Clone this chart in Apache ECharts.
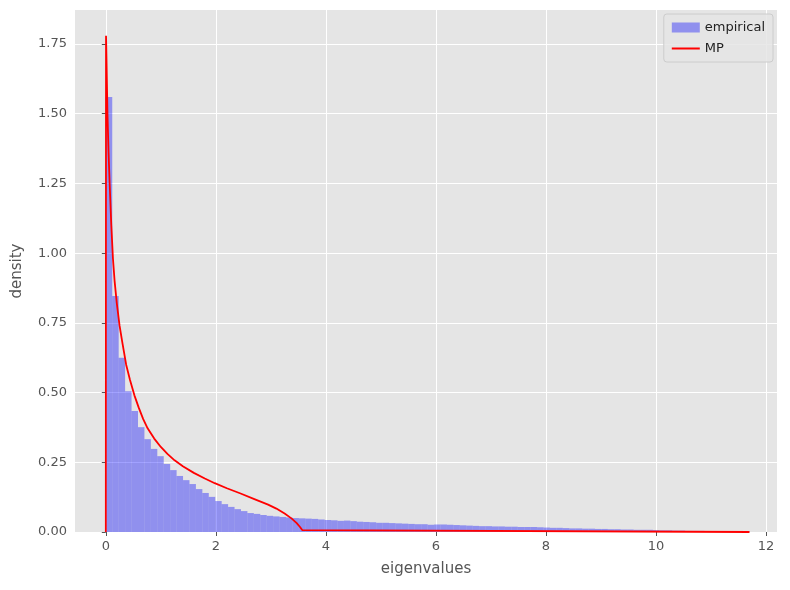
<!DOCTYPE html><html><head><meta charset="utf-8"><script src="https://cdn.jsdelivr.net/npm/echarts@6/dist/echarts.min.js"></script></head><body style="margin:0"><div id="c" style="width:790px;height:590px"></div><script>
const binWidth = 0.117;
const histValues = [1.56,0.846,0.625,0.505,0.434,0.376,0.333,0.298,0.272,0.244,0.222,0.201,0.186,0.172,0.154,0.140,0.126,0.111,0.100,0.090,0.082,0.075,0.068,0.065,0.061,0.058,
0.056,0.054,0.052,0.050,0.049,0.048,0.047,0.045,0.043,0.042,0.040,0.041,0.039,0.037,0.036,0.035,0.033,0.033,0.032,0.031,0.030,0.029,0.028,0.028,0.026,0.027,0.027,0.026,0.025,0.024,0.023,0.022,0.021,0.021,0.020,0.020,0.019,0.019,0.018,0.018,0.018,0.017,0.016,0.015,0.015,0.014,0.013,0.013,0.012,0.012,0.011,0.011,0.010,0.010,0.009,0.009,0.008,0.008,0.008,0.007,0.006,0.006,0.005,0.005,0.004,0.004,0.004,0.003,0.003,0.003,0.002,0.002,0.002,0.002];
const mpCurve = [[0,0],[0.004,1.78],[0.012,1.70],[0.03,1.50],[0.05,1.36],[0.07,1.25],[0.1,1.10],[0.13,0.98],[0.16,0.90],[0.2,0.82],[0.25,0.74],[0.3,0.68],[0.37,0.60],[0.44,0.545],[0.52,0.49],[0.6,0.445],[0.68,0.405],[0.76,0.372],[0.88,0.335],[1.0,0.305],[1.12,0.28],[1.25,0.257],[1.4,0.236],[1.6,0.212],[1.8,0.192],[1.98,0.175],[2.2,0.157],[2.45,0.138],[2.7,0.118],[2.95,0.098],[3.1,0.084],[3.25,0.066],[3.38,0.048],[3.47,0.032],[3.53,0.018],[3.57,0.007],[3.6,0],[11.7,0]];
const xTicks = [0,2,4,6,8,10,12];
const yTicks = [0,0.25,0.5,0.75,1,1.25,1.5,1.75];
const bins = histValues.map((v,i)=>[i*binWidth,(i+1)*binWidth,v]);
const c = echarts.init(document.getElementById('c'));
const ax = {color:'#555',fontSize:13,fontFamily:'DejaVu Sans'};
c.setOption({
 backgroundColor:'#fff', animation:false,
 grid:{left:75,right:13,top:10,bottom:58,show:true,backgroundColor:'#E5E5E5',borderWidth:0},
 legend:{right:17,top:14,orient:'vertical',backgroundColor:'rgba(229,229,229,0.85)',borderColor:'#ccc',borderWidth:1,borderRadius:3,padding:[7,8],itemGap:8,itemWidth:28,itemHeight:10,textStyle:{fontSize:13,color:'#222',fontFamily:'DejaVu Sans'},
  data:[{name:'empirical',icon:'rect'},{name:'MP',icon:'path://M0,4L28,4L28,6L0,6Z'}]},
 xAxis:{type:'value',min:-0.56,max:12.2,name:'eigenvalues',nameLocation:'middle',nameGap:30,nameTextStyle:{fontSize:15,color:'#555',fontFamily:'DejaVu Sans'},
  axisLine:{show:false},axisTick:{show:true,length:4,lineStyle:{color:'#555'},customValues:xTicks},axisLabel:Object.assign({customValues:xTicks},ax),
  splitLine:{show:true,lineStyle:{color:'#fff',width:1}}},
 yAxis:{type:'value',min:0,max:1.872,name:'density',nameLocation:'middle',nameGap:50,nameTextStyle:{fontSize:15,color:'#555',fontFamily:'DejaVu Sans'},
  axisLine:{show:false},axisTick:{show:true,length:4,lineStyle:{color:'#555'},customValues:yTicks},axisLabel:Object.assign({customValues:yTicks,formatter:v=>v.toFixed(2)},ax),
  splitLine:{show:true,lineStyle:{color:'#fff',width:1}}},
 series:[
  {name:'empirical',type:'custom',itemStyle:{color:'rgba(0,0,255,0.37)'},data:bins,encode:{x:[0,1],y:2},
   renderItem:(p,api)=>{const a=api.coord([api.value(0),api.value(2)]);const b=api.coord([api.value(1),0]);
    return {type:'rect',shape:{x:a[0],y:a[1],width:b[0]-a[0],height:b[1]-a[1]},style:{fill:'rgba(0,0,255,0.37)'}};}},
  {name:'MP',type:'line',data:mpCurve,smooth:false,showSymbol:false,lineStyle:{color:'#ff0000',width:1.8},itemStyle:{color:'#ff0000'}}
 ]});
</script></body></html>
